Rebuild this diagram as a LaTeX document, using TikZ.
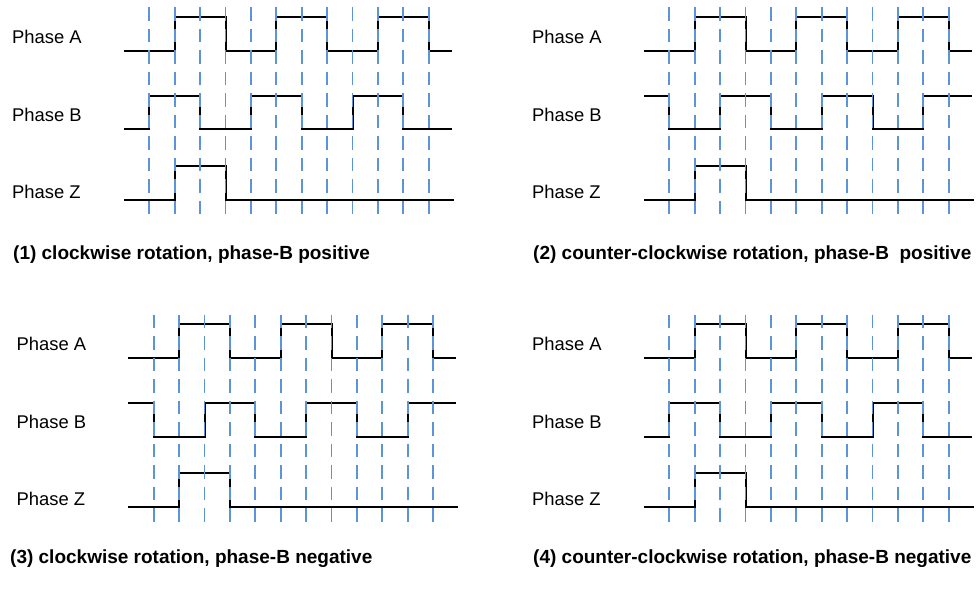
\documentclass[tikz,border=0pt]{standalone}
\usepackage{fontspec}
\setmainfont{Liberation Sans}
\definecolor{dashblue}{HTML}{5B95D8}
\tikzset{
  guide/.style={draw=dashblue, line width=1.8pt, dash pattern=on 13.5pt off 8pt},
  wave/.style={draw=black, line width=2pt, line join=miter},
  lbl/.style={anchor=west, inner sep=0pt, font=\fontsize{18.4}{20}\selectfont},
  captxt/.style={anchor=west, inner sep=0pt, font=\fontsize{19}{21}\selectfont\bfseries},
}
% #1 shift x, #2 shift y, #3 first B level, #4 second B level, #5 name prefix
\newcommand\wavepanel[5]{%
\begin{scope}[shift={(#1,#2)}]
  \draw[wave] (124,50.7) -- (174.7,50.7) |- (225.5,16.7) |- (276.3,50.7) |- (327.1,16.7) |- (377.9,50.7) |- (428.7,16.7) |- (452,50.7);
  \draw[wave] (124,#3) -- (149.3,#3) |- (200.1,#4) |- (250.9,#3) |- (301.7,#4) |- (352.5,#3) |- (403.3,#4) |- (452,#3);
  \draw[wave] (124,200) -- (174.7,200) |- (225.5,165.7) |- (454,200);
  \foreach \i in {0,...,11} \draw[guide] ({149.3+25.4*\i},7.3) -- ({149.3+25.4*\i},217);
  \node[lbl] (#5A) at (12,37) {Phase A};
  \node[lbl] (#5B) at (12,115) {Phase B};
  \node[lbl] (#5Z) at (12,192) {Phase Z};
\end{scope}}
\begin{document}
\begin{tikzpicture}[x=1pt,y=-1pt]
  \useasboundingbox (0,0) rectangle (976,590);
  \wavepanel{0}{0}{129.3}{95.7}{p1}
  \wavepanel{520}{0}{95.7}{129.3}{p2}
  \wavepanel{4.4}{307.2}{95.7}{129.3}{p3}
  \wavepanel{520}{307.2}{129.3}{95.7}{p4}
  \node[captxt] (c1) at (13,255) {(1) clockwise rotation, phase-B positive};
  \node[captxt] (c2) at (533,255) {(2) counter-clockwise rotation, phase-B\ \ positive};
  \node[captxt] (c3) at (10,559) {(3) clockwise rotation, phase-B negative};
  \node[captxt] (c4) at (533,559) {(4) counter-clockwise rotation, phase-B negative};
\end{tikzpicture}
\end{document}
